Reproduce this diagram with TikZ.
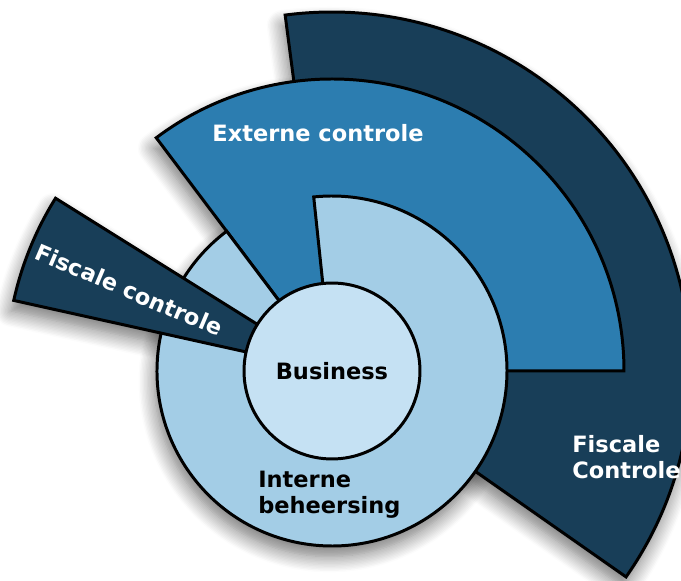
\documentclass[tikz,border=0pt]{standalone}
\usepackage{fontspec}
\setmainfont{DejaVu Sans}
\usepackage{tikz}
\usetikzlibrary{shadows.blur}
\definecolor{fiscdark}{RGB}{24,62,88}
\definecolor{extblue}{RGB}{44,125,176}
\definecolor{intlight}{RGB}{163,205,230}
\definecolor{buspale}{RGB}{197,225,243}

\begin{document}
\begin{tikzpicture}[x=0.02cm,y=0.02cm,
    sector/.style={draw=black,line width=1.7pt},
    shade/.style={blur shadow={shadow xshift=-1.5pt,shadow yshift=-6pt,shadow blur radius=9pt,shadow blur steps=12,shadow opacity=55}},
    lbl/.style={font=\bfseries\fontsize{12.8}{14.7}\selectfont,inner sep=0pt,align=left}]
    \useasboundingbox (-332,-210) rectangle (349,371);
    % shadows under everything
    \path[shade] (0,0) -- (-35:359) arc[start angle=-35,end angle=97.5,radius=359] -- cycle;
    \path[shade] (0,0) -- (0:292) arc[start angle=0,end angle=127,radius=292] -- cycle;
    \path[shade] (0,0) circle[radius=175];
    \path[shade] (0,0) -- (148:326) arc[start angle=148,end angle=167.5,radius=326] -- cycle;
    % sectors
    \draw[sector,fill=fiscdark] (0,0) -- (-35:359) arc[start angle=-35,end angle=97.5,radius=359] -- cycle;
    \draw[sector,fill=extblue] (0,0) -- (0:292) arc[start angle=0,end angle=127,radius=292] -- cycle;
    \draw[sector,fill=intlight] (0,0) -- (127:175) arc[start angle=127,end angle=456,radius=175] -- cycle;
    \draw[sector,fill=fiscdark] (0,0) -- (148:326) arc[start angle=148,end angle=167.5,radius=326] -- cycle;
    \node[lbl,circle,draw=black,line width=1.7pt,fill=buspale,minimum size=3.52cm] (business) at (0,0) {Business};
    \node[lbl,anchor=west] (interne) at (-74,-124) {Interne\\beheersing};
    \begin{scope}[every node/.style={lbl,text=white}]
        \node (externe) at (-14,238) {Externe controle};
        \node[anchor=west] (fiscright) at (240,-86) {Fiscale\\Controle};
        \node[rotate=-23] (fiscleft) at (-203,81) {Fiscale controle};
    \end{scope}
\end{tikzpicture}
\end{document}
